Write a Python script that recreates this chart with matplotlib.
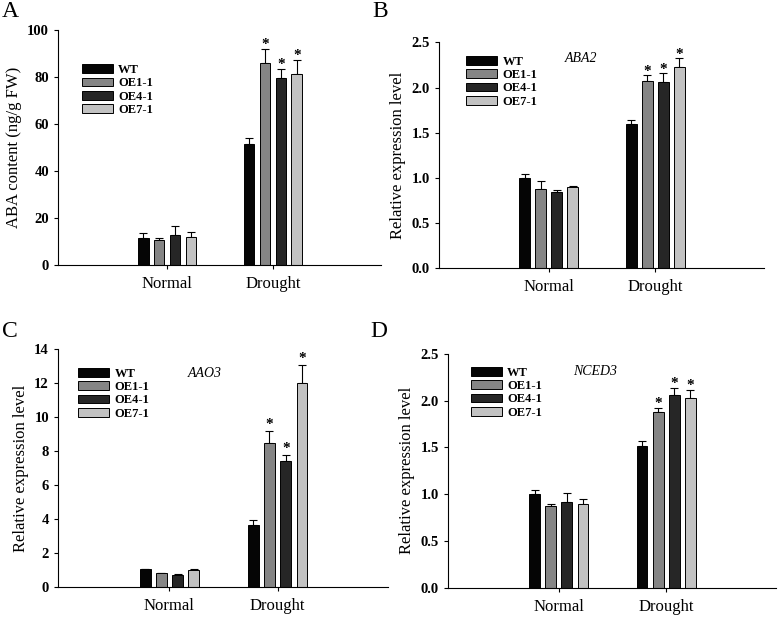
import numpy as np
import matplotlib
matplotlib.use('Agg')
import matplotlib.pyplot as plt

plt.rcParams['font.family'] = ['Liberation Serif', 'DejaVu Serif']

# Data
groups = ['Normal', 'Drought']
lines = ['WT', 'OE1-1', 'OE4-1', 'OE7-1']
colors = ['#050505', '#858585', '#262626', '#c2c2c2']

# rows = Normal, Drought ; columns = WT, OE1-1, OE4-1, OE7-1
aba_mean = [[11.6, 10.6, 12.9, 11.9], [51.3, 86.1, 79.7, 81.4]]
aba_err = [[1.9, 0.9, 3.6, 2.0], [2.7, 5.8, 3.8, 5.8]]

aba2_mean = [[1.00, 0.875, 0.84, 0.895], [1.60, 2.075, 2.06, 2.223]]
aba2_err = [[0.04, 0.09, 0.03, 0.015], [0.045, 0.065, 0.10, 0.105]]

aao3_mean = [[1.02, 0.79, 0.71, 0.97], [3.65, 8.45, 7.41, 12.0]]
aao3_err = [[0.04, 0.04, 0.06, 0.09], [0.30, 0.76, 0.37, 1.06]]

nced3_mean = [[1.00, 0.872, 0.918, 0.895], [1.514, 1.877, 2.061, 2.032]]
nced3_err = [[0.046, 0.022, 0.09, 0.05], [0.05, 0.048, 0.08, 0.082]]

sig = [[0, 0, 0, 0], [0, 1, 1, 1]]

panels = [
    dict(letter='A', mean=aba_mean, err=aba_err, ylabel='ABA content (ng/g FW)',
         ylim=(0, 100), yticks=np.arange(0, 101, 20), fmt='%d', gene=None,
         pos=[0.0746, 0.572, 0.415, 0.3796], leg=(0.074, 0.855), star_off=1.9,
         letter_xy=(0.002, 0.998)),
    dict(letter='B', mean=aba2_mean, err=aba2_err, ylabel='Relative expression level',
         ylim=(0, 2.5), yticks=np.arange(0, 2.51, 0.5), fmt='%.1f', gene=('ABA2', 0.30, 2.32),
         pos=[0.564, 0.5666, 0.418, 0.365], leg=(0.084, 0.94), star_off=0.038,
         letter_xy=(0.478, 0.998)),
    dict(letter='C', mean=aao3_mean, err=aao3_err, ylabel='Relative expression level',
         ylim=(0, 14), yticks=np.arange(0, 14.1, 2), fmt='%d', gene=('AAO3', 0.33, 12.58),
         pos=[0.0746, 0.0522, 0.424, 0.3835], leg=(0.061, 0.922), star_off=0.38,
         letter_xy=(0.002, 0.482)),
    dict(letter='D', mean=nced3_mean, err=nced3_err, ylabel='Relative expression level',
         ylim=(0, 2.5), yticks=np.arange(0, 2.51, 0.5), fmt='%.1f', gene=('NCED3', 0.34, 2.31),
         pos=[0.5758, 0.0506, 0.4216, 0.3775], leg=(0.070, 0.945), star_off=0.047,
         letter_xy=(0.476, 0.482)),
]

fig = plt.figure(figsize=(7.78, 6.19), dpi=100)

x = np.arange(len(groups))
width = 0.1
offsets = [-0.225, -0.075, 0.075, 0.225]

for p in panels:
    ax = fig.add_axes(p['pos'])
    mean = np.array(p['mean'])
    err = np.array(p['err'])
    for j, name in enumerate(lines):
        ax.bar(x + offsets[j], mean[:, j], width, color=colors[j], edgecolor='black',
               linewidth=0.7, label=name, zorder=2)
        ax.errorbar(x + offsets[j], mean[:, j], yerr=[np.zeros(len(groups)), err[:, j]],
                    fmt='none', ecolor='black', elinewidth=0.8, capsize=3, capthick=0.8, zorder=1)
        for i in range(len(groups)):
            if sig[i][j]:
                ax.text(x[i] + offsets[j], mean[i, j] + err[i, j] + p['star_off'], '*',
                        ha='center', va='center', fontsize=11, fontweight='bold')

    ax.set_xlim(-1.03, 2.02)
    ax.set_ylim(*p['ylim'])
    ax.set_yticks(p['yticks'])
    ax.yaxis.set_major_formatter(matplotlib.ticker.FormatStrFormatter(p['fmt']))
    ax.set_xticks(x)
    ax.set_xticklabels(groups, fontsize=12)
    ax.tick_params(axis='x', length=3, width=0.8, pad=5)
    ax.tick_params(axis='y', length=3, width=0.8, labelsize=10.5)
    for lab in ax.get_yticklabels():
        lab.set_fontweight('bold')
    ax.spines['top'].set_visible(False)
    ax.spines['right'].set_visible(False)
    ax.spines['left'].set_linewidth(0.8)
    ax.spines['bottom'].set_linewidth(0.8)
    ax.set_ylabel(p['ylabel'], fontsize=12)

    ax.legend(loc='upper left', bbox_to_anchor=p['leg'], frameon=False, borderpad=0,
              borderaxespad=0, handlelength=2.5, handleheight=0.7, handletextpad=0.4,
              labelspacing=0.1, prop={'size': 9, 'weight': 'bold'})

    if p['gene']:
        g, gx, gy = p['gene']
        ax.text(gx, gy, g, ha='center', va='center', fontsize=10, style='italic')

    fig.text(p['letter_xy'][0], p['letter_xy'][1], p['letter'], fontsize=17,
             ha='left', va='top')

fig.savefig('out.png', dpi=100)
